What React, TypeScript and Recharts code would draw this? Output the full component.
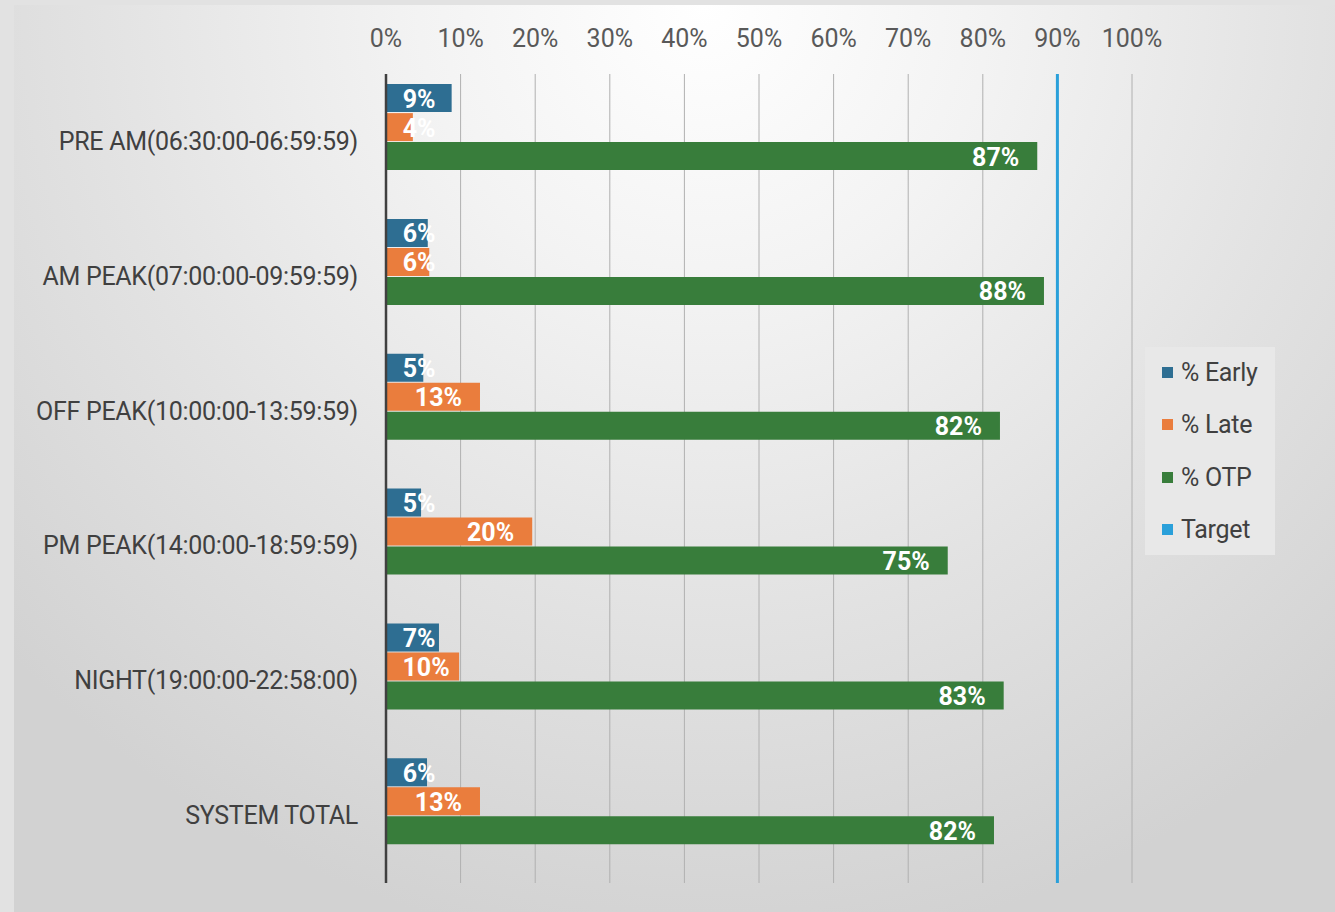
import React from 'react';
import { BarChart, Bar, XAxis, YAxis, CartesianGrid, ReferenceLine, LabelList } from 'recharts';

const categories = [
  'PRE AM(06:30:00-06:59:59)',
  'AM PEAK(07:00:00-09:59:59)',
  'OFF PEAK(10:00:00-13:59:59)',
  'PM PEAK(14:00:00-18:59:59)',
  'NIGHT(19:00:00-22:58:00)',
  'SYSTEM TOTAL',
];
const earlyValues = [8.8, 5.6, 5.0, 4.7, 7.1, 5.5];
const lateValues = [3.6, 5.8, 12.6, 19.6, 9.8, 12.6];
const otpValues = [87.3, 88.2, 82.3, 75.3, 82.8, 81.5];
const targetSlot: (number | null)[] = [null, null, null, null, null, null];
const TARGET = 90;
const xTicks = [0, 10, 20, 30, 40, 50, 60, 70, 80, 90, 100];

const seriesNames = ['% Early', '% Late', '% OTP', 'Target'];
const seriesColors = ['#2E6E92', '#EA7D3D', '#387D3B', '#2AA0DA'];

const data = categories.map((c, i) => ({
  name: c,
  early: earlyValues[i],
  late: lateValues[i],
  otp: otpValues[i],
  target: targetSlot[i],
}));

const FONT = 'Roboto, "Noto Sans", sans-serif';

const estWidth = (t: string) => {
  let w = 0;
  for (const ch of t) w += ch === '%' ? 18.5 : 14.1;
  return w;
};

const DataLabel = (props: any) => {
  const { x, y, width, height, value } = props;
  if (value == null) return null;
  const txt = `${Math.round(Number(value))}%`;
  const w = estWidth(txt);
  const endX = Math.max(x + width - 18, x + 17 + w);
  return (
    <text
      x={endX}
      y={y + height / 2 + 1}
      textAnchor="end"
      dominantBaseline="central"
      fill="#ffffff"
      fontWeight={700}
      fontSize={25}
      fontFamily={FONT}
    >
      {txt}
    </text>
  );
};

const TopTick = (props: any) => {
  const { x, y, payload } = props;
  return (
    <text x={x} y={y - 36} textAnchor="middle" dominantBaseline="central" fill="#595959" fontSize={25} fontFamily={FONT}>
      {`${payload.value}%`}
    </text>
  );
};

const CatTick = (props: any) => {
  const { x, y, payload } = props;
  return (
    <text x={x - 28} y={y} textAnchor="end" dominantBaseline="central" fill="#404040" fontSize={25} fontFamily={FONT} letterSpacing={-0.3}>
      {payload.value}
    </text>
  );
};

export default function App() {
  return (
    <div style={{ position: 'absolute', left: 0, top: 0, width: 1335, height: 912, background: '#e2e2e2', overflow: 'hidden' }}>
      <div
        style={{
          position: 'absolute',
          left: 14,
          top: 5,
          width: 1321,
          height: 907,
          background:
            'radial-gradient(ellipse 950px 950px at 690px 0px, #ffffff 0%, #f3f3f3 30%, #e2e2e2 65%, #d2d2d2 100%)',
        }}
      >
        <BarChart
          width={1321}
          height={907}
          data={data}
          layout="vertical"
          margin={{ top: 0, right: 203, bottom: 29, left: 0 }}
          barCategoryGap="7.5%"
          barGap={1}
        >
          <CartesianGrid horizontal={false} vertical={true} stroke="#b0b0b0" strokeWidth={1} />
          <XAxis
            type="number"
            orientation="top"
            domain={[0, 100]}
            ticks={xTicks}
            height={69}
            axisLine={false}
            tickLine={false}
            tickSize={0}
            tickMargin={0}
            tick={<TopTick />}
            interval={0}
          />
          <YAxis
            type="category"
            dataKey="name"
            width={372}
            axisLine={{ stroke: '#404040', strokeWidth: 2.5 }}
            tickLine={false}
            tickSize={0}
            tickMargin={0}
            tick={<CatTick />}
            interval={0}
          />
          <Bar dataKey="early" name={seriesNames[0]} fill={seriesColors[0]} isAnimationActive={false}>
            <LabelList dataKey="early" content={<DataLabel />} />
          </Bar>
          <Bar dataKey="late" name={seriesNames[1]} fill={seriesColors[1]} isAnimationActive={false}>
            <LabelList dataKey="late" content={<DataLabel />} />
          </Bar>
          <Bar dataKey="otp" name={seriesNames[2]} fill={seriesColors[2]} isAnimationActive={false}>
            <LabelList dataKey="otp" content={<DataLabel />} />
          </Bar>
          <Bar dataKey="target" name={seriesNames[3]} fill={seriesColors[3]} isAnimationActive={false} />
          <ReferenceLine x={TARGET} stroke={seriesColors[3]} strokeWidth={3} ifOverflow="extendDomain" />
        </BarChart>
      </div>
      <div
        style={{
          position: 'absolute',
          left: 1145,
          top: 347,
          width: 130,
          height: 208,
          background: '#e8e8e8',
        }}
      >
        {seriesNames.map((n, i) => (
          <div
            key={n}
            style={{
              position: 'absolute',
              left: 17,
              top: 25 + i * 52.5 - 16,
              height: 32,
              display: 'flex',
              alignItems: 'center',
              fontFamily: FONT,
              fontSize: 25,
              color: '#404040',
              whiteSpace: 'nowrap',
            }}
          >
            <span style={{ display: 'inline-block', width: 11, height: 11, background: seriesColors[i], marginRight: 8 }} />
            <span style={{ letterSpacing: -0.3 }}>{n}</span>
          </div>
        ))}
      </div>
    </div>
  );
}
